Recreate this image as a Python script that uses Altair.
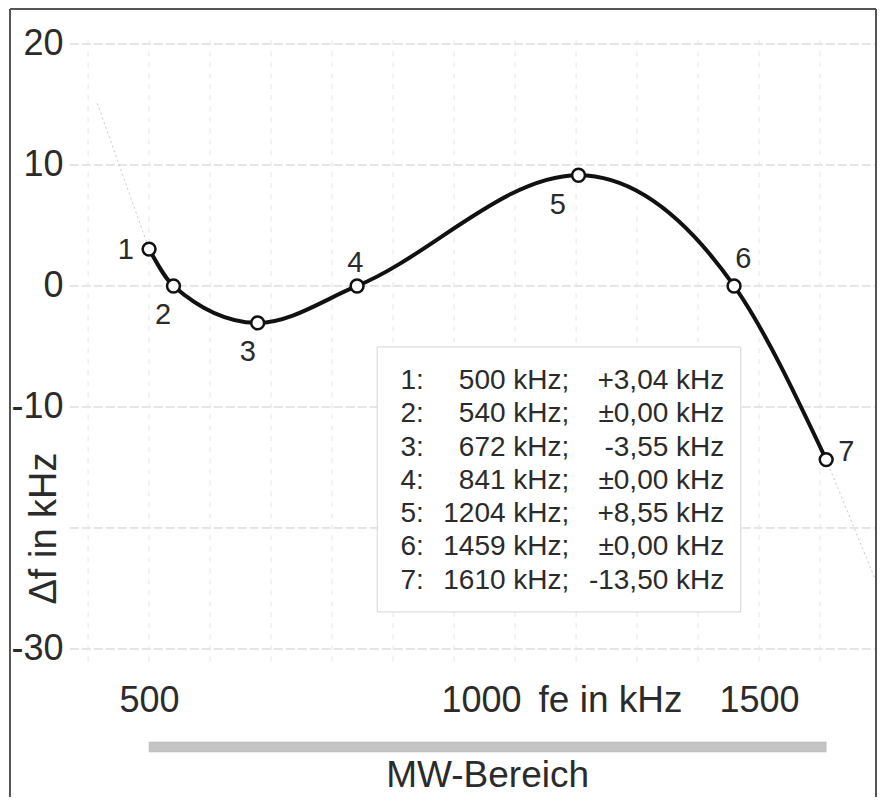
import altair as alt
import pandas as pd

# ---- data ----
fe_khz = [500, 540, 678, 841, 1204, 1459, 1610]
df_khz = [3.05, 0.0, -3.05, 0.0, 9.15, 0.0, -14.35]
point_ids = ["1", "2", "3", "4", "5", "6", "7"]
label_fe = [462, 523, 662, 838, 1170, 1474, 1643]
label_df = [2.98, -2.40, -5.45, 1.90, 6.69, 2.23, -13.72]

legend_idx = ["1:", "2:", "3:", "4:", "5:", "6:", "7:"]
legend_freq = ["500 kHz;", "540 kHz;", "672 kHz;", "841 kHz;", "1204 kHz;", "1459 kHz;", "1610 kHz;"]
legend_value = ["+3,04 kHz", "±0,00 kHz", "-3,55 kHz", "±0,00 kHz", "+8,55 kHz", "±0,00 kHz", "-13,50 kHz"]
legend_row_df = [-7.85, -10.60, -13.35, -16.10, -18.85, -21.60, -24.36]
legend_col_fe = [912, 1189, 1443]
legend_box_fe = [874, 1470]
legend_box_df = [-5.04, -26.94]

x_ticks = [500, 1000, 1500]
y_ticks = [20, 10, 0, -10, -30]
grid_y = [20, 10, 0, -10, -20, -30]
grid_x = [400, 500, 600, 700, 800, 900, 1000, 1100, 1200, 1300, 1400, 1500, 1600]
grid_x_span = [370, 1692]
grid_y_span = [20.3, -31.5]

ghost_left_fe = [415, 500]
ghost_left_df = [15.1, 3.05]
ghost_right_fe = [1610, 1690]
ghost_right_df = [-14.35, -24.2]

mw_band = [500, 1610]
mw_label = "MW-Bereich"

FONT = "Liberation Sans"
TXT = "#2b2b2b"
W, H = 866, 783

xs = alt.Scale(domain=[272, 272 + W / 0.61], nice=False, zero=False)
ys = alt.Scale(domain=[-41.82, 22.89], nice=False, zero=False)

x_axis = alt.Axis(
    values=x_ticks, title="fe in kHz", grid=False, domain=False, ticks=False,
    tickSize=0, labelPadding=0, labelBaseline="middle", labelFontSize=36,
    labelColor=TXT, labelFont=FONT, labelFlush=False, labelOverlap=False,
    labelExpr="'' + datum.value",
    labelOffset=alt.condition("datum.value == 1000", alt.value(27), alt.value(0)),
    offset=-92, titleX=600, titleY=0, titleAlign="center", titleBaseline="middle",
    titleFontSize=37, titleFontWeight="normal", titleColor=TXT, titleFont=FONT,
)
y_axis = alt.Axis(
    values=y_ticks, title="Δf in kHz", grid=False, domain=False, ticks=False,
    tickSize=0, labelPadding=0, labelAlign="right", labelBaseline="middle",
    labelFontSize=36, labelColor=TXT, labelFont=FONT, labelFlush=False,
    labelOverlap=False, labelExpr="'' + datum.value",
    offset=-53, titleX=-19, titleY=519, titleAngle=270, titleAlign="center",
    titleBaseline="middle", titleFontSize=38, titleFontWeight="normal",
    titleColor=TXT, titleFont=FONT,
)

curve_df = pd.DataFrame({"fe": fe_khz, "df": df_khz, "id": point_ids})
lab_df = pd.DataFrame({"fe": label_fe, "df": label_df, "id": point_ids})
hgrid = pd.DataFrame({"df": grid_y, "fe": grid_x_span[0], "fe2": grid_x_span[1]})
vgrid = pd.DataFrame({"fe": grid_x, "df": grid_y_span[0], "df2": grid_y_span[1]})
ghost = pd.DataFrame({
    "fe": ghost_left_fe + ghost_right_fe,
    "df": ghost_left_df + ghost_right_df,
    "seg": ["l"] * len(ghost_left_fe) + ["r"] * len(ghost_right_fe),
})
box = pd.DataFrame({"fe": [legend_box_fe[0]], "fe2": [legend_box_fe[1]],
                    "df": [legend_box_df[0]], "df2": [legend_box_df[1]]})
leg = pd.DataFrame({"df": legend_row_df, "idx": legend_idx,
                    "freq": legend_freq, "val": legend_value})
band = pd.DataFrame({"fe": [mw_band[0]], "fe2": [mw_band[1]],
                     "mid": [(mw_band[0] + mw_band[1]) / 2], "t": [mw_label]})

X = lambda: alt.X("fe:Q", scale=xs)
Y = lambda: alt.Y("df:Q", scale=ys)

base_axes = alt.Chart(curve_df).mark_point(opacity=0).encode(
    x=alt.X("fe:Q", scale=xs, axis=x_axis),
    y=alt.Y("df:Q", scale=ys, axis=y_axis),
)

hg = alt.Chart(hgrid).mark_rule(color="#cdcdcd", strokeWidth=1, strokeDash=[9, 3]).encode(
    x=X(), x2="fe2:Q", y=Y())
vg = alt.Chart(vgrid).mark_rule(color="#e6e6e6", strokeWidth=1, strokeDash=[5, 6]).encode(
    x=X(), y=Y(), y2="df2:Q")
gh = alt.Chart(ghost).mark_line(color="#c8c8c8", strokeWidth=1, strokeDash=[2, 3]).encode(
    x=X(), y=Y(), detail="seg:N")

bx = alt.Chart(box).mark_rect(fill="white", stroke="#d4d4d4", strokeWidth=1).encode(
    x=X(), x2="fe2:Q", y=Y(), y2="df2:Q")
t_idx = alt.Chart(leg).mark_text(align="left", baseline="middle", font=FONT, fontSize=28,
                                 color=TXT).encode(
    x=alt.datum(legend_col_fe[0], scale=xs), y=Y(), text="idx:N")
t_frq = alt.Chart(leg).mark_text(align="right", baseline="middle", font=FONT, fontSize=28,
                                 color=TXT).encode(
    x=alt.datum(legend_col_fe[1], scale=xs), y=Y(), text="freq:N")
t_val = alt.Chart(leg).mark_text(align="right", baseline="middle", font=FONT, fontSize=28,
                                 color=TXT).encode(
    x=alt.datum(legend_col_fe[2], scale=xs), y=Y(), text="val:N")

line = alt.Chart(curve_df).mark_line(interpolate="monotone", color="#111111", strokeWidth=4).encode(
    x=X(), y=Y())
pts = alt.Chart(curve_df).mark_point(filled=True, fill="white", stroke="#111111",
                                     strokeWidth=2.5, size=165, opacity=1).encode(x=X(), y=Y())
plabs = alt.Chart(lab_df).mark_text(align="center", baseline="middle", font=FONT, fontSize=29,
                                    color=TXT).encode(x=X(), y=Y(), text="id:N")

bar = alt.Chart(band).mark_rect(color="#c4c4c4", stroke="#b0b0b0", strokeWidth=0.5).encode(
    x=X(), x2="fe2:Q", y=alt.value(733), y2=alt.value(743))
mw = alt.Chart(band).mark_text(align="center", baseline="middle", font=FONT, fontSize=37,
                               color=TXT).encode(
    x=alt.X("mid:Q", scale=xs), y=alt.value(767), text="t:N")

frame_l = alt.Chart(band).mark_rule(color="#555555", strokeWidth=2).encode(
    x=alt.value(0), y=alt.value(0), y2=alt.value(H + 5))
frame_t = alt.Chart(band).mark_rule(color="#555555", strokeWidth=2).encode(
    x=alt.value(0), x2=alt.value(W), y=alt.value(0))
frame_r = alt.Chart(band).mark_rule(color="#555555", strokeWidth=2).encode(
    x=alt.value(W), y=alt.value(0), y2=alt.value(H + 5))

chart = alt.layer(
    base_axes, hg, vg, gh, bx, t_idx, t_frq, t_val, line, pts, plabs, bar, mw,
    frame_l, frame_t, frame_r,
).properties(
    width=W, height=H,
    autosize=alt.AutoSizeParams(type="none"),
    padding={"left": 2, "top": 1, "right": 1, "bottom": 5},
    background="white",
).configure_view(stroke=None).configure_axis(grid=False)

chart.save("out.html", embed_options={"renderer": "svg", "actions": False})
